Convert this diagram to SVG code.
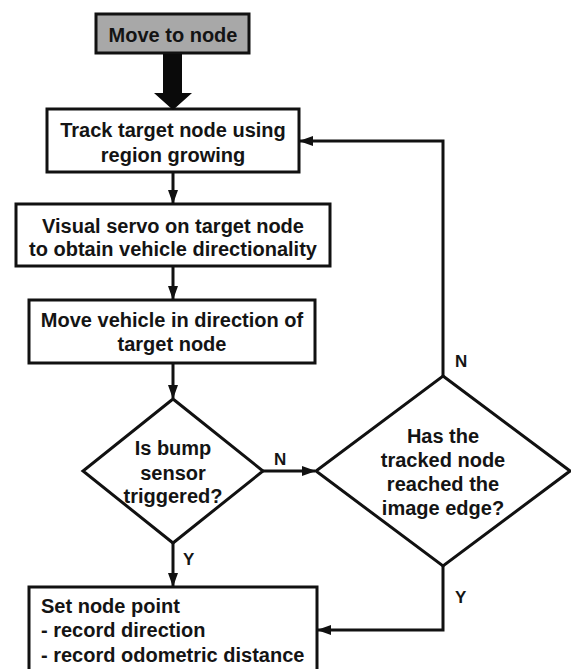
<svg xmlns="http://www.w3.org/2000/svg" width="571" height="669" viewBox="0 0 571 669">
  <style>
    .box { fill: #ffffff; stroke: #111111; stroke-width: 3; }
    .start { fill: #a8a8a8; stroke: #111111; stroke-width: 3; }
    .txt { font-family: "Liberation Sans", Arial, sans-serif; font-weight: bold; font-size: 20px; fill: #141414; text-anchor: middle; }
    .left { text-anchor: start; }
    .lbl { font-family: "Liberation Sans", Arial, sans-serif; font-weight: bold; font-size: 17px; fill: #141414; }
    .wire { fill: none; stroke: #111111; stroke-width: 3; }
  </style>
  <defs>
    <marker id="arrow" markerUnits="userSpaceOnUse" markerWidth="14" markerHeight="10" refX="13" refY="5" orient="auto">
      <path d="M0,0 L14,5 L0,10 Z" fill="#111111"/>
    </marker>
  </defs>
  <rect width="571" height="669" fill="#ffffff"/>

  <!-- Nodes -->
  <g id="move-to-node">
    <rect class="start" x="96" y="14" width="153" height="39"/>
    <text class="txt" x="173" y="42">Move to node</text>
  </g>

  <g id="track-target">
    <rect class="box" x="47" y="109" width="252" height="63"/>
    <text class="txt" x="173" y="137">Track target node using</text>
    <text class="txt" x="173" y="162">region growing</text>
  </g>

  <g id="visual-servo">
    <rect class="box" x="16" y="204" width="314" height="62"/>
    <text class="txt" x="173" y="233">Visual servo on target node</text>
    <text class="txt" x="173" y="256">to obtain vehicle directionality</text>
  </g>

  <g id="move-vehicle">
    <rect class="box" x="29" y="300" width="286" height="63"/>
    <text class="txt" x="172" y="327">Move vehicle in direction of</text>
    <text class="txt" x="172" y="351">target node</text>
  </g>

  <g id="bump-sensor">
    <polygon class="box" points="173,399 263,471 173,543 83,471"/>
    <text class="txt" x="173" y="455">Is bump</text>
    <text class="txt" x="173" y="480">sensor</text>
    <text class="txt" x="173" y="503">triggered?</text>
  </g>

  <g id="image-edge">
    <polygon class="box" points="443,376 570,471 443,566 316,471"/>
    <text class="txt" x="443" y="443">Has the</text>
    <text class="txt" x="443" y="467">tracked node</text>
    <text class="txt" x="443" y="491">reached the</text>
    <text class="txt" x="443" y="515">image edge?</text>
  </g>

  <g id="set-node-point">
    <rect class="box" x="29" y="587" width="288" height="90"/>
    <text class="txt left" x="41" y="613">Set node point</text>
    <text class="txt left" x="41" y="637">- record direction</text>
    <text class="txt left" x="41" y="662">- record odometric distance</text>
  </g>

  <!-- Connectors -->
  <g id="connectors">
    <!-- thick block arrow from the start node -->
    <polygon points="163,54 182,54 182,93 192,93 173,110 154,93 163,93" fill="#0a0a0a"/>
    <path class="wire" d="M173,172 L173,203" marker-end="url(#arrow)"/>
    <path class="wire" d="M173,266 L173,299" marker-end="url(#arrow)"/>
    <path class="wire" d="M173,363 L173,398" marker-end="url(#arrow)"/>
    <!-- N: bump sensor not triggered -->
    <path class="wire" d="M263,471 L315,471" marker-end="url(#arrow)"/>
    <text class="lbl" x="274" y="465">N</text>
    <!-- Y: bump sensor triggered -->
    <path class="wire" d="M173,543 L173,586" marker-end="url(#arrow)"/>
    <text class="lbl" x="183" y="565">Y</text>
    <!-- N: loop back to tracking -->
    <path class="wire" d="M443,376 L443,141 L300,141" marker-end="url(#arrow)"/>
    <text class="lbl" x="455" y="367">N</text>
    <!-- Y: edge reached -->
    <path class="wire" d="M443,566 L443,630 L318,630" marker-end="url(#arrow)"/>
    <text class="lbl" x="455" y="603">Y</text>
  </g>
</svg>
